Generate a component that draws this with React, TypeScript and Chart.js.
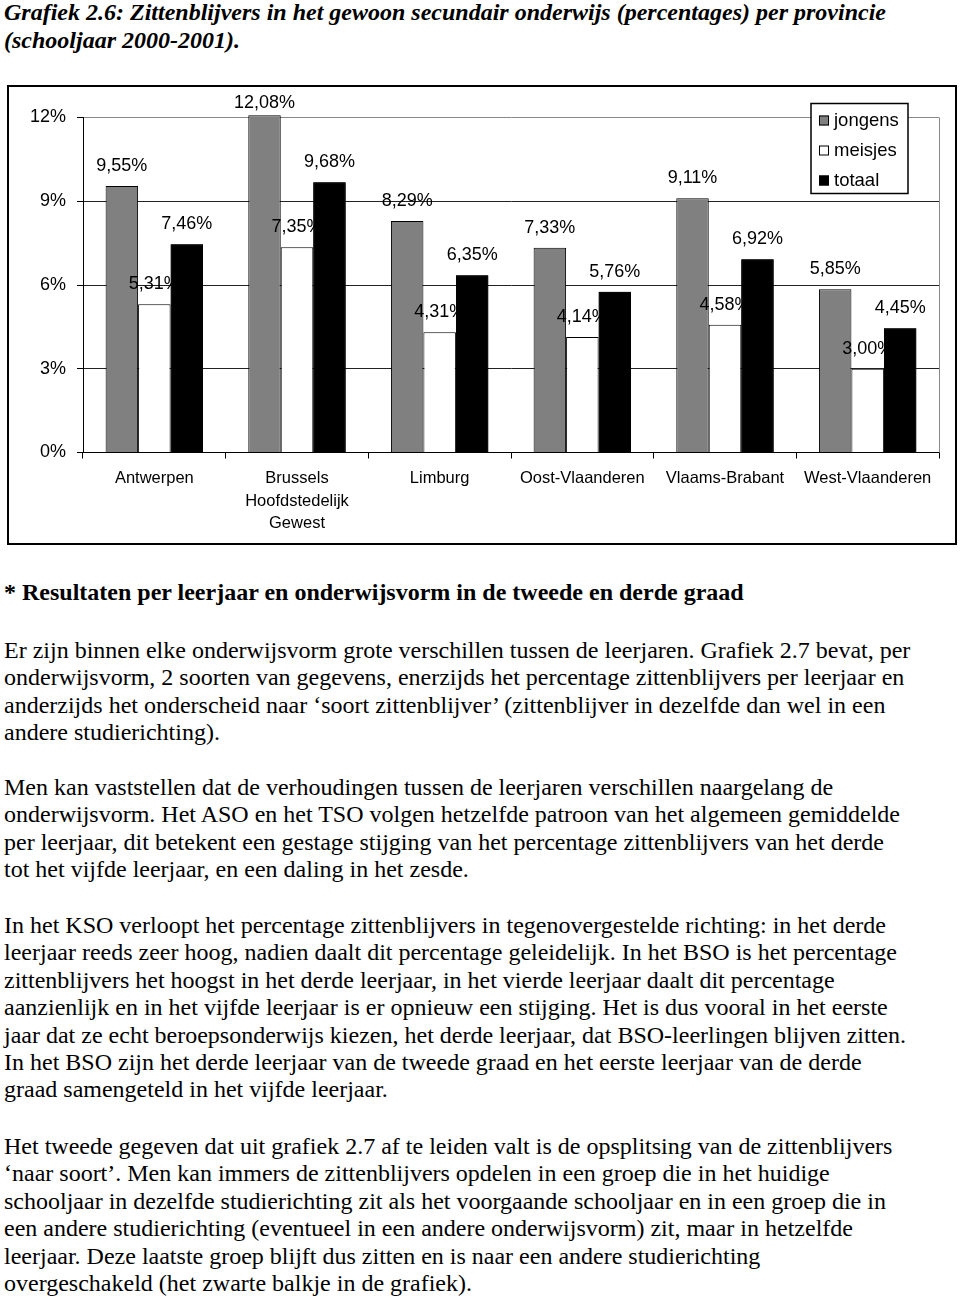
import React, { useEffect, useRef } from "react";
import { Chart, registerables } from "chart.js";

Chart.register(...registerables);

const provinces: string[][] = [
  ["Antwerpen"],
  ["Brussels", "Hoofdstedelijk", "Gewest"],
  ["Limburg"],
  ["Oost-Vlaanderen"],
  ["Vlaams-Brabant"],
  ["West-Vlaanderen"],
];
const seriesNames = ["jongens", "meisjes", "totaal"];
const jongens = [9.55, 12.08, 8.29, 7.33, 9.11, 5.85];
const meisjes = [5.31, 7.35, 4.31, 4.14, 4.58, 3.0];
const totaal = [7.46, 9.68, 6.35, 5.76, 6.92, 4.45];
const yTickValues = [0, 3, 6, 9, 12];

const titleLines = [
  "Grafiek 2.6: Zittenblijvers in het gewoon secundair onderwijs (percentages) per provincie",
  "(schooljaar 2000-2001).",
];
const headingText = "* Resultaten per leerjaar en onderwijsvorm in de tweede en derde graad";
const para1 = [
  "Er zijn binnen elke onderwijsvorm grote verschillen tussen de leerjaren. Grafiek 2.7 bevat, per",
  "onderwijsvorm, 2 soorten van gegevens, enerzijds het percentage zittenblijvers per leerjaar en",
  "anderzijds het onderscheid naar \u2018soort zittenblijver\u2019 (zittenblijver in dezelfde dan wel in een",
  "andere studierichting).",
];
const para2 = [
  "Men kan vaststellen dat de verhoudingen tussen de leerjaren verschillen naargelang de",
  "onderwijsvorm. Het ASO en het TSO volgen hetzelfde patroon van het algemeen gemiddelde",
  "per leerjaar, dit betekent een gestage stijging van het percentage zittenblijvers van het derde",
  "tot het vijfde leerjaar, en een daling in het zesde.",
];
const para3 = [
  "In het KSO verloopt het percentage zittenblijvers in tegenovergestelde richting: in het derde",
  "leerjaar reeds zeer hoog, nadien daalt dit percentage geleidelijk. In het BSO is het percentage",
  "zittenblijvers het hoogst in het derde leerjaar, in het vierde leerjaar daalt dit percentage",
  "aanzienlijk en in het vijfde leerjaar is er opnieuw een stijging. Het is dus vooral in het eerste",
  "jaar dat ze echt beroepsonderwijs kiezen, het derde leerjaar, dat BSO-leerlingen blijven zitten.",
  "In het BSO zijn het derde leerjaar van de tweede graad en het eerste leerjaar van de derde",
  "graad samengeteld in het vijfde leerjaar.",
];
const para4 = [
  "Het tweede gegeven dat uit grafiek 2.7 af te leiden valt is de opsplitsing van de zittenblijvers",
  "\u2018naar soort\u2019. Men kan immers de zittenblijvers opdelen in een groep die in het huidige",
  "schooljaar in dezelfde studierichting zit als het voorgaande schooljaar en in een groep die in",
  "een andere studierichting (eventueel in een andere onderwijsvorm) zit, maar in hetzelfde",
  "leerjaar. Deze laatste groep blijft dus zitten en is naar een andere studierichting",
  "overgeschakeld (het zwarte balkje in de grafiek).",
];

const SANS = "'Liberation Sans', Arial, sans-serif";
const SERIF = "'Liberation Serif', 'Times New Roman', serif";
const fmt = (v: number) => v.toFixed(2).replace(".", ",") + "%";

const framePlugin = {
  id: "frameAndLabels",
  afterDatasetsDraw(chart: any) {
    const ctx = chart.ctx;
    const area = chart.chartArea;
    ctx.save();
    // right border of plot area
    ctx.strokeStyle = "#888";
    ctx.lineWidth = 1;
    ctx.beginPath();
    ctx.moveTo(Math.round(area.right) + 0.5, area.top);
    ctx.lineTo(Math.round(area.right) + 0.5, area.bottom);
    ctx.stroke();

    ctx.font = `18px ${SANS}`;
    ctx.fillStyle = "#000";
    ctx.textAlign = "center";
    ctx.textBaseline = "middle";
    const drawLabels = (di: number) => {
      const meta = chart.getDatasetMeta(di);
      meta.data.forEach((bar: any, i: number) => {
        const v = chart.data.datasets[di].data[i] as number;
        const y = Math.max(bar.y - 20, area.top - 14);
        ctx.fillText(fmt(v), bar.x, y);
      });
    };
    drawLabels(0);
    drawLabels(1);
    ctx.restore();
    // redraw the totaal bars over the meisjes labels
    const m2 = chart.getDatasetMeta(2);
    m2.data.forEach((el: any) => el.draw(ctx, area));
    ctx.save();
    ctx.font = `18px ${SANS}`;
    ctx.fillStyle = "#000";
    ctx.textAlign = "center";
    ctx.textBaseline = "middle";
    drawLabels(2);
    ctx.restore();
  },
  afterDraw(chart: any) {
    const ctx = chart.ctx;
    const area = chart.chartArea;
    const ds = chart.data.datasets;
    const boxW = 97;
    const boxH = 90;
    const bx = area.right - 128;
    const by = area.top - 14;
    ctx.save();
    ctx.fillStyle = "#fff";
    ctx.fillRect(bx, by, boxW, boxH);
    ctx.strokeStyle = "#000";
    ctx.lineWidth = 1.5;
    ctx.strokeRect(bx, by, boxW, boxH);
    ctx.font = `18.5px ${SANS}`;
    ctx.textBaseline = "middle";
    ctx.textAlign = "left";
    ds.forEach((d: any, i: number) => {
      const cy = by + 17 + i * 30;
      ctx.fillStyle = d.backgroundColor;
      ctx.fillRect(bx + 8, cy - 5, 10, 10);
      ctx.strokeStyle = "#000";
      ctx.lineWidth = 1;
      ctx.strokeRect(bx + 8.5, cy - 4.5, 9, 9);
      ctx.fillStyle = "#000";
      ctx.fillText(d.label, bx + 23, cy);
    });
    ctx.restore();
  },
};

function BarChart() {
  const ref = useRef<HTMLCanvasElement>(null);
  useEffect(() => {
    if (!ref.current) return;
    const chart = new Chart(ref.current, {
      type: "bar",
      data: {
        labels: provinces as any,
        datasets: [
          { label: seriesNames[0], data: jongens, backgroundColor: "#808080", borderColor: "#000", borderWidth: 1, clip: false as any },
          { label: seriesNames[1], data: meisjes, backgroundColor: "#ffffff", borderColor: "#000", borderWidth: 1, clip: false as any },
          { label: seriesNames[2], data: totaal, backgroundColor: "#000000", borderColor: "#000", borderWidth: 1, clip: false as any },
        ],
      },
      options: {
        responsive: false,
        maintainAspectRatio: false,
        animation: false,
        devicePixelRatio: 1,
        layout: { padding: { top: 30.5, right: 16, left: 0, bottom: 0 } },
        datasets: { bar: { categoryPercentage: 0.683, barPercentage: 1 } },
        plugins: { legend: { display: false }, tooltip: { enabled: false } },
        scales: {
          x: {
            grid: { drawOnChartArea: false, drawTicks: true, tickLength: 6, color: "#000", offset: true },
            border: { color: "#000", width: 1 },
            ticks: { font: { size: 16.5, family: SANS, lineHeight: 1.36 }, color: "#000", padding: 9, maxRotation: 0, autoSkip: false },
            afterFit: (s: any) => { s.height = 90.5; },
          },
          y: {
            min: 0,
            max: 12,
            afterBuildTicks: (s: any) => { s.ticks = yTickValues.map((v) => ({ value: v })); },
            ticks: { callback: (v: any) => v + "%", font: { size: 18, family: SANS }, color: "#000", padding: 11 },
            grid: {
              color: (c: any) => (c.tick && c.tick.value === 12 ? "#888" : "#222"),
              tickColor: "#000",
              tickLength: 6,
              lineWidth: 1,
            },
            border: { color: "#000", width: 1 },
            afterFit: (s: any) => { s.width = 74; },
          },
        },
      },
      plugins: [framePlugin],
    });
    return () => chart.destroy();
  }, []);
  return <canvas ref={ref} width={946} height={456} style={{ width: 946, height: 456, display: "block" }} />;
}

const textStyle: React.CSSProperties = {
  position: "absolute",
  left: 4,
  fontFamily: SERIF,
  fontSize: 24,
  lineHeight: "27.4px",
  color: "#000",
  whiteSpace: "nowrap",
  margin: 0,
};

function Lines({ lines, top, extra }: { lines: string[]; top: number; extra?: React.CSSProperties }) {
  return (
    <div style={{ ...textStyle, top, ...(extra || {}) }}>
      {lines.map((l, i) => (
        <div key={i}>{l}</div>
      ))}
    </div>
  );
}

export default function App() {
  useEffect(() => {
    document.body.style.margin = "0";
  }, []);
  return (
    <div style={{ position: "relative", width: 960, height: 1303, background: "#fff", overflow: "hidden" }}>
      <Lines lines={titleLines} top={-2} extra={{ fontWeight: "bold", fontStyle: "italic", lineHeight: "28px" }} />
      <div style={{ position: "absolute", left: 7, top: 85, width: 950, height: 460, border: "2px solid #000", boxSizing: "border-box" }}>
        <BarChart />
      </div>
      <Lines lines={[headingText]} top={579} extra={{ fontWeight: "bold" }} />
      <Lines lines={para1} top={637} />
      <Lines lines={para2} top={774} />
      <Lines lines={para3} top={912} />
      <Lines lines={para4} top={1133} />
    </div>
  );
}
